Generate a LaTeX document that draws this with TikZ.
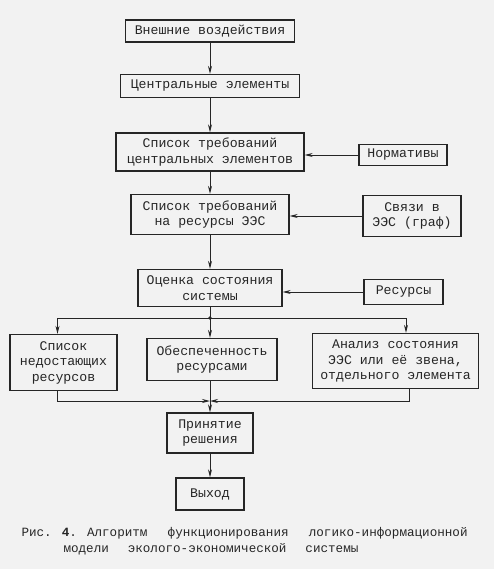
\documentclass[tikz,border=0pt]{standalone}
\usepackage{fontspec}
\newfontfamily\typewr{Liberation Mono}
\usetikzlibrary{arrows.meta,positioning}

\begin{document}
\begin{tikzpicture}[x=1pt,y=-1pt,>={Stealth[length=8pt,width=4pt]},
  every node/.style={font=\typewr\fontsize{13.2}{15.5}\selectfont,text=black!85},
  box/.style={draw=black!85,line width=1.3pt,align=center,inner sep=0pt},
  link/.style={draw=black!85,line width=0.9pt}]
\fill[black!5] (0,0) rectangle (494,569);
\useasboundingbox (0,0) rectangle (494,569);
\node[box,minimum width=169pt,minimum height=22pt] (impact) at (210,31) {Внешние воздействия};
\node[box,minimum width=179pt,minimum height=23pt] (central) at (210,86) {Центральные элементы};
\node[box,minimum width=188pt,minimum height=38pt] (req) at (210,152) {Список требований\\центральных элементов};
\node[box,minimum width=88pt,minimum height=21pt] (norms) at (403,155) {Нормативы};
\node[box,minimum width=158pt,minimum height=40pt] (resreq) at (210,214.5) {Список требований\\на ресурсы ЭЭС};
\node[box,minimum width=98pt,minimum height=41pt] (links) at (412,216) {Связи в\\ЭЭС (граф)};
\node[box,minimum width=144pt,minimum height=37pt] (assess) at (210,288) {Оценка состояния\\системы};
\node[box,minimum width=79pt,minimum height=25pt] (resources) at (403.5,292) {Ресурсы};
\node[box,minimum width=107pt,minimum height=56pt] (lack) at (63.5,362.5) {Список\\недостающих\\ресурсов};
\node[box,minimum width=130pt,minimum height=42pt] (supply) at (212,359.5) {Обеспеченность\\ресурсами};
\node[box,minimum width=166pt,minimum height=55pt] (analysis) at (395.5,361) {Анализ состояния\\ЭЭС или её звена,\\отдельного элемента};
\node[box,minimum width=86pt,minimum height=40pt] (decision) at (210,433) {Принятие\\решения};
\node[box,minimum width=68pt,minimum height=32pt] (output) at (210,494) {Выход};
\coordinate (split) at (210,318);
\coordinate (merge) at (210,401);
\draw[link,->] (impact) -- (central);
\draw[link,->] (central) -- (req);
\draw[link,->] (norms) -- (norms -| req.east);
\draw[link,->] (req) -- (resreq);
\draw[link,->] (links) -- (links -| resreq.east);
\draw[link,->] (resreq) -- (assess);
\draw[link,->] (resources) -- (resources -| assess.east);
\draw[link] (assess) -- (split);
\fill[black!85] (split) circle (1.8pt);
\draw[link,->] (split) -| ([xshift=-6pt]lack.north);
\draw[link,->] (split) -- (supply.north -| split);
\draw[link,->] (split) -| ([xshift=10.5pt]analysis.north);
\draw[link,->] ([xshift=-6pt]lack.south) |- (merge);
\draw[link,->] ([xshift=13.5pt]analysis.south) |- (merge);
\draw[link,->] (supply.south -| merge) -- (decision);
\draw[link,->] (decision) -- (output);
\node[anchor=west,font=\typewr\fontsize{12.6}{14}\selectfont] (cap1) at (18,533) {Рис. \textbf{4}. Алгоритм\hspace{1.6em}функционирования\hspace{1.6em}логико-информационной};
\node[anchor=west,font=\typewr\fontsize{12.6}{14}\selectfont] (cap2) at (60,549) {модели\hspace{1.5em}эколого-экономической\hspace{1.5em}системы};
\end{tikzpicture}
\end{document}
